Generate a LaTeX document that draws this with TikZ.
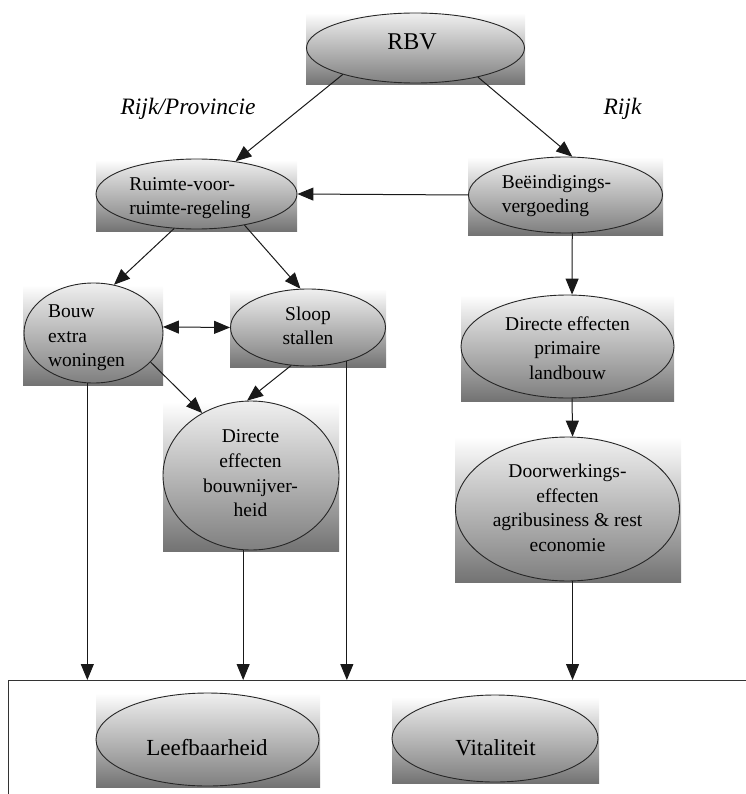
\documentclass[tikz,border=0pt]{standalone}
\usepackage{fontspec}
\setmainfont{Liberation Serif}
\usetikzlibrary{arrows.meta,shapes.geometric}
\tikzset{
  box/.style={rectangle, inner sep=0pt, top color=white, bottom color=black!55},
  oval/.style={ellipse, inner sep=0pt, draw=black!85, line width=.9pt, top color=black!6, bottom color=black!50},
  txt/.style={inner sep=0pt, font=\fontsize{19.5}{24.6}\selectfont},
  bigtxt/.style={inner sep=0pt, font=\fontsize{23}{28}\selectfont},
  side/.style={inner sep=0pt, font=\itshape\fontsize{23.5}{28}\selectfont},
  arr/.style={-{Triangle[length=16pt,width=13pt]}, line width=1pt, black!90},
  dblarr/.style={{Triangle[length=16pt,width=13pt]}-{Triangle[length=16pt,width=13pt]}, line width=1pt, black!90},
}
\begin{document}
\begin{tikzpicture}[x=1pt,y=-1pt]
\useasboundingbox (0,0) rectangle (745,794);
\node[draw=black!80,line width=1pt,anchor=north west,minimum width=760,minimum height=140] (impact) at (8,680) {};
% RBV
\node[box,minimum width=219,minimum height=72] (rbvbox) at (415.5,49) {};
\node[oval,minimum width=218,minimum height=70] (rbv) at (415.5,48) {};
\node[txt,font=\fontsize{24}{28}\selectfont] (rbvtext) at (412,42) {RBV};
\node[side] (rijkprov) at (188,109) {Rijk/Provincie};
\node[side] (rijk) at (622.5,109) {Rijk};
% Ruimte-voor-ruimte
\node[box,minimum width=201,minimum height=71] (ruimtebox) at (196.5,195.5) {};
\node[oval,minimum width=201,minimum height=70] (ruimte) at (196.5,194) {};
\node[txt,align=left] (ruimtetext) at (190,198) {Ruimte-voor-\\ruimte-regeling};
% Beeindigingsvergoeding
\node[box,minimum width=195,minimum height=78] (beeindbox) at (565.5,196) {};
\node[oval,minimum width=194,minimum height=76] (beeind) at (565.5,195) {};
\node[txt,align=left] (beeindtext) at (556.5,196) {Beëindigings-\\vergoeding};
% Bouw
\node[box,minimum width=140,minimum height=100] (bouwbox) at (93,335) {};
\node[oval,minimum width=139,minimum height=100] (bouw) at (93.5,333) {};
\node[txt,align=left] (bouwtext) at (86.5,338) {Bouw\\extra\\woningen};
% Sloop
\node[box,minimum width=156,minimum height=78] (sloopbox) at (308,328) {};
\node[oval,minimum width=155,minimum height=77] (sloop) at (308,327.5) {};
\node[txt,align=center] (slooptext) at (308,326) {Sloop\\stallen};
% Primaire landbouw
\node[box,minimum width=213,minimum height=106] (primbox) at (567.5,348) {};
\node[oval,minimum width=213,minimum height=103] (prim) at (567.5,346.5) {};
\node[txt,align=center] (primtext) at (567.5,348) {Directe effecten\\primaire\\landbouw};
% Bouwnijverheid
\node[box,minimum width=176,minimum height=149] (bouwnbox) at (251,476.5) {};
\node[oval,minimum width=176,minimum height=149] (bouwn) at (251,475.5) {};
\node[txt,align=center] (bouwntext) at (250.5,473.5) {Directe\\effecten\\bouwnijver-\\heid};
% Doorwerking
\node[box,minimum width=226,minimum height=145] (doorwbox) at (568,509.5) {};
\node[oval,minimum width=224,minimum height=144] (doorw) at (567.5,509) {};
\node[txt,align=center] (doorwtext) at (567.5,508) {Doorwerkings-\\effecten\\agribusiness \& rest\\economie};
% Leefbaarheid, Vitaliteit
\node[box,minimum width=224,minimum height=94] (leefbox) at (208,740) {};
\node[oval,minimum width=223,minimum height=93] (leef) at (207.5,739.5) {};
\node[bigtxt] (leeftext) at (207,748) {Leefbaarheid};
\node[box,minimum width=207,minimum height=86] (vitalbox) at (495.5,740) {};
\node[oval,minimum width=206,minimum height=87] (vital) at (495,738.5) {};
\node[bigtxt] (vitaltext) at (495.5,748) {Vitaliteit};
% connectors
\draw[arr] (rbv.200) -- (ruimte.40);
\draw[arr] (rbv.335) -- (beeind.80);
\draw[arr] (beeind.west) -- (ruimte.east);
\draw[arr] (ruimte.237) -- (bouw.67);
\draw[arr] (ruimte.327) -- (sloop.101);
\draw[dblarr] (bouw.5) -- (sloop.west);
\draw[arr] (beeind.280) -- (prim.85);
\draw[arr] (prim.275) -- (doorw.86);
\draw[arr] (bouw.333) -- (bouwn.128);
\draw[arr] (sloop.246) -- (bouwn.93);
\draw[arr] (bouw.263) -- (bouw.263 |- impact.north);
\draw[arr] (bouwn.264) -- (bouwn.264 |- impact.north);
\draw[arr] (sloop.319) -- (sloop.319 |- impact.north);
\draw[arr] (doorw.274) -- (doorw.274 |- impact.north);
\end{tikzpicture}
\end{document}
